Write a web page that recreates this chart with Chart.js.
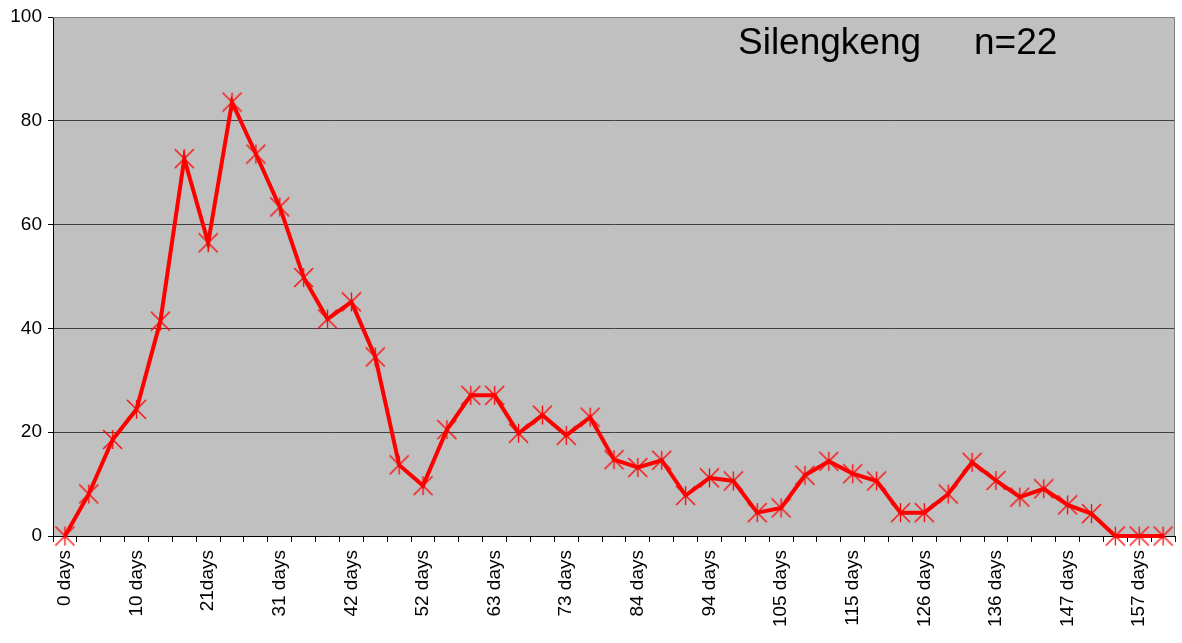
<!DOCTYPE html>
<html>
<head>
<meta charset="utf-8">
<script src="https://cdn.jsdelivr.net/npm/chart.js@4/dist/chart.umd.min.js"></script>
<style>
  html, body { margin: 0; padding: 0; background: #ffffff; }
  #wrap { width: 1182px; height: 643px; }
</style>
</head>
<body>
<div id="wrap"><canvas id="c" width="1182" height="643"></canvas></div>
<script>
// ---- data ----
const categories = [
  '0 days', '', '', '10 days', '', '', '21days', '', '', '31 days', '', '',
  '42 days', '', '', '52 days', '', '', '63 days', '', '', '73 days', '', '',
  '84 days', '', '', '94 days', '', '', '105 days', '', '', '115 days', '', '',
  '126 days', '', '', '136 days', '', '', '147 days', '', '', '157 days', ''
];
const values = [
  0, 8.1, 18.6, 24.4, 41.4, 72.7, 56.5, 83.6, 73.6, 63.4, 49.8, 41.8,
  45.1, 34.5, 13.7, 9.7, 20.5, 27.1, 27.1, 19.8, 23.3, 19.4, 22.9, 14.7,
  13.2, 14.6, 7.8, 11.2, 10.6, 4.5, 5.4, 11.7, 14.4, 12.0, 10.6, 4.5,
  4.5, 8.1, 14.2, 10.7, 7.5, 9.1, 6.0, 4.3, 0, 0, 0
];
const yTicks = [0, 20, 40, 60, 80, 100];
const titleText = 'Silengkeng';
const sampleText = 'n=22';

const FONT = "'Liberation Sans', Arial, Helvetica, sans-serif";

// asterisk-style marker (X plus vertical bar)
function makeMarker(size, color) {
  const c = document.createElement('canvas');
  c.width = size; c.height = size;
  const g = c.getContext('2d');
  g.strokeStyle = color;
  g.lineWidth = 1.3;
  const m = 1;
  g.beginPath();
  g.moveTo(m, m); g.lineTo(size - m, size - m);
  g.moveTo(size - m, m); g.lineTo(m, size - m);
  g.moveTo(Math.floor(size / 2) + 0.5, m); g.lineTo(Math.floor(size / 2) + 0.5, size - m);
  g.stroke();
  return c;
}
const marker = makeMarker(21, '#ff0000');

const bgPlugin = {
  id: 'plotBg',
  beforeDraw(chart) {
    const { ctx, chartArea: a } = chart;
    ctx.save();
    ctx.fillStyle = '#c0c0c0';
    ctx.fillRect(a.left, a.top, a.right - a.left, a.bottom - a.top);
    ctx.restore();
  },
  beforeDatasetsDraw(chart) {
    const { ctx, chartArea: a } = chart;
    ctx.save();
    ctx.strokeStyle = '#808080';
    ctx.lineWidth = 1;
    ctx.beginPath();
    ctx.moveTo(a.left, a.top + 0.5);
    ctx.lineTo(a.right - 0.5, a.top + 0.5);
    ctx.lineTo(a.right - 0.5, a.bottom);
    ctx.stroke();
    ctx.restore();
  },
  afterDraw(chart) {
    const { ctx } = chart;
    ctx.save();
    ctx.fillStyle = '#000000';
    ctx.font = '37px ' + FONT;
    ctx.textAlign = 'left';
    ctx.textBaseline = 'alphabetic';
    ctx.fillText(titleText, 738, 53.5);
    ctx.fillText(sampleText, 974, 53.5);
    ctx.restore();
  }
};

new Chart(document.getElementById('c'), {
  type: 'line',
  data: {
    labels: categories,
    datasets: [{
      data: values,
      borderColor: '#ff0000',
      borderWidth: 4,
      tension: 0,
      pointStyle: marker,
      pointRadius: 10,
      pointHoverRadius: 10,
      fill: false,
      clip: false
    }]
  },
  options: {
    responsive: false,
    devicePixelRatio: 1,
    animation: false,
    layout: { autoPadding: false, padding: { top: 17, right: 7, left: 0, bottom: 0 } },
    plugins: { legend: { display: false }, tooltip: { enabled: false }, title: { display: false } },
    scales: {
      x: {
        type: 'category',
        offset: true,
        grid: {
          offset: true,
          drawOnChartArea: false,
          drawTicks: true,
          tickLength: 6,
          tickColor: '#000000',
          color: '#000000'
        },
        border: { display: true, color: '#000000', width: 1 },
        ticks: {
          autoSkip: false,
          maxRotation: 90,
          minRotation: 90,
          padding: 8,
          color: '#000000',
          font: { family: FONT, size: 19 }
        },
        afterFit(scale) {
          scale.height = 107;
          scale.paddingLeft = 0;
          scale.paddingRight = 0;
        }
      },
      y: {
        min: 0,
        max: 100,
        afterBuildTicks(scale) { scale.ticks = yTicks.map(v => ({ value: v })); },
        grid: {
          color: (ctx) => (ctx.tick && ctx.tick.value === 100) ? '#808080' : '#404040',
          tickColor: '#000000',
          tickLength: 5,
          drawTicks: true
        },
        border: { display: true, color: '#000000', width: 1 },
        ticks: {
          padding: 6,
          color: '#000000',
          font: { family: FONT, size: 19 }
        },
        afterFit(scale) {
          scale.width = 53;
          scale.paddingTop = 0;
          scale.paddingBottom = 0;
        }
      }
    }
  },
  plugins: [bgPlugin]
});
</script>
</body>
</html>
